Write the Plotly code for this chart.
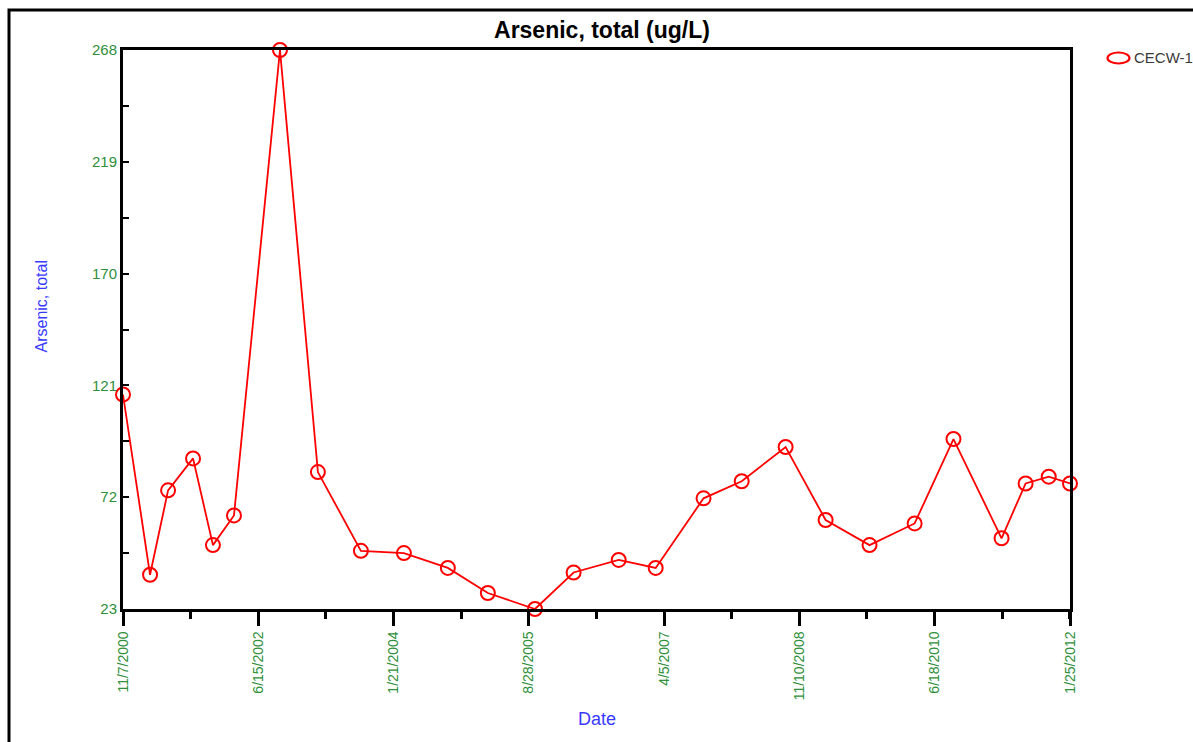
import plotly.graph_objects as go

# ---- data ----
dates = ["2000-11-07", "2001-03-04", "2001-05-21", "2001-09-06", "2001-12-01",
         "2002-03-02", "2002-09-17", "2003-02-28", "2003-09-02", "2004-03-06",
         "2004-09-12", "2005-03-04", "2005-09-24", "2006-03-10", "2006-09-21",
         "2007-02-28", "2007-09-23", "2008-03-06", "2008-09-12", "2009-03-04",
         "2009-09-10", "2010-03-24", "2010-09-08", "2011-04-04", "2011-07-17",
         "2011-10-25", "2012-01-25"]
arsenic = [117, 38, 75, 89, 51, 64, 268, 83, 48.5, 47.5,
           41, 30, 23, 39, 44.5, 41, 71.5, 79, 94, 62,
           51, 60.5, 97.5, 54, 78, 81, 78]
series_name = "CECW-1"

x_tick_dates = ["2000-11-07", "2002-06-15", "2004-01-21", "2005-08-28",
                "2007-04-05", "2008-11-10", "2010-06-18", "2012-01-25"]
x_tick_labels = ["11/7/2000", "6/15/2002", "1/21/2004", "8/28/2005",
                 "4/5/2007", "11/10/2008", "6/18/2010", "1/25/2012"]
y_ticks = [23, 72, 121, 170, 219, 268]

GREEN = "#2f8f3a"
BLUE = "#3a3aff"
RED = "#ff0000"
FONT = "Liberation Sans, Arial, sans-serif"

# plot-area pixel geometry (for placing frame/legend/titles in paper units)
L, R, T, B = 123, 1070, 50, 609
PW, PH = R - L, B - T
def px(x):
    return (x - L) / PW
def py(y):
    return (B - y) / PH

fig = go.Figure()
fig.add_trace(go.Scatter(
    x=dates, y=arsenic, mode="lines+markers", name=series_name,
    line=dict(color=RED, width=1.8),
    marker=dict(symbol="circle-open", size=14, color=RED, line=dict(width=2, color=RED)),
    cliponaxis=False, showlegend=False,
))

DAY_MS = 86400000
fig.update_layout(
    width=1193, height=742, autosize=False,
    margin=dict(l=L, r=1193 - R, t=T, b=742 - B, pad=0),
    paper_bgcolor="white", plot_bgcolor="white",
    font=dict(family=FONT),
    showlegend=False,
    title=dict(text="Arsenic, total (ug/L)", x=602 / 1193, xanchor="center",
               y=1 - 29.5 / 742, yanchor="middle", yref="container", xref="container",
               font=dict(size=23, color="black", family=FONT, weight="bold")),
    xaxis=dict(
        type="date", range=[x_tick_dates[0], x_tick_dates[-1]],
        tickmode="array", tickvals=x_tick_dates, ticktext=x_tick_labels,
        tickangle=-90, tickfont=dict(size=14, color=GREEN, family=FONT),
        ticks="outside", ticklen=14, tickwidth=2.5, tickcolor="black",
        minor=dict(tickmode="linear", tick0=x_tick_dates[0], dtick=292.5 * DAY_MS,
                   ticks="outside", ticklen=7, tickwidth=2.5, tickcolor="black", showgrid=False),
        showline=True, linecolor="black", linewidth=2.5, mirror=True,
        showgrid=False, zeroline=False,
    ),
    yaxis=dict(
        range=[23, 268], tickmode="array", tickvals=y_ticks,
        ticktext=[str(v) for v in y_ticks],
        tickfont=dict(size=15, color=GREEN, family=FONT),
        ticks="inside", ticklen=6, tickwidth=2, tickcolor="black",
        minor=dict(tickmode="linear", tick0=23, dtick=24.5,
                   ticks="inside", ticklen=6, tickwidth=2, tickcolor="black", showgrid=False),
        showline=True, linecolor="black", linewidth=3, mirror=True,
        showgrid=False, zeroline=False,
    ),
    shapes=[
        dict(type="rect", xref="paper", yref="paper",
             x0=px(9), x1=1.3, y0=-0.5, y1=py(10),
             line=dict(color="black", width=3), fillcolor="rgba(0,0,0,0)", layer="below"),
        # legend symbol (ellipse)
        dict(type="circle", xref="paper", yref="paper", xsizemode="pixel", ysizemode="pixel",
             xanchor=px(1118.5), yanchor=py(58), x0=-11, x1=11, y0=-5.5, y1=5.5,
             line=dict(color=RED, width=2.2), fillcolor="rgba(0,0,0,0)"),
    ],
    annotations=[
        dict(text=series_name, xref="paper", yref="paper",
             x=px(1132), y=py(58), xanchor="left", yanchor="middle",
             showarrow=False, font=dict(size=15, color="#3a3a3a", family=FONT)),
        dict(text="Arsenic, total", xref="paper", yref="paper",
             x=px(41), y=py(306.5), textangle=-90,
             showarrow=False, font=dict(size=16, color=BLUE, family=FONT),
             xanchor="center", yanchor="middle"),
        dict(text="Date", xref="paper", yref="paper",
             x=px(597), y=py(719),
             showarrow=False, font=dict(size=18, color=BLUE, family=FONT),
             xanchor="center", yanchor="middle"),
    ],
)

fig.write_html("out.html")
